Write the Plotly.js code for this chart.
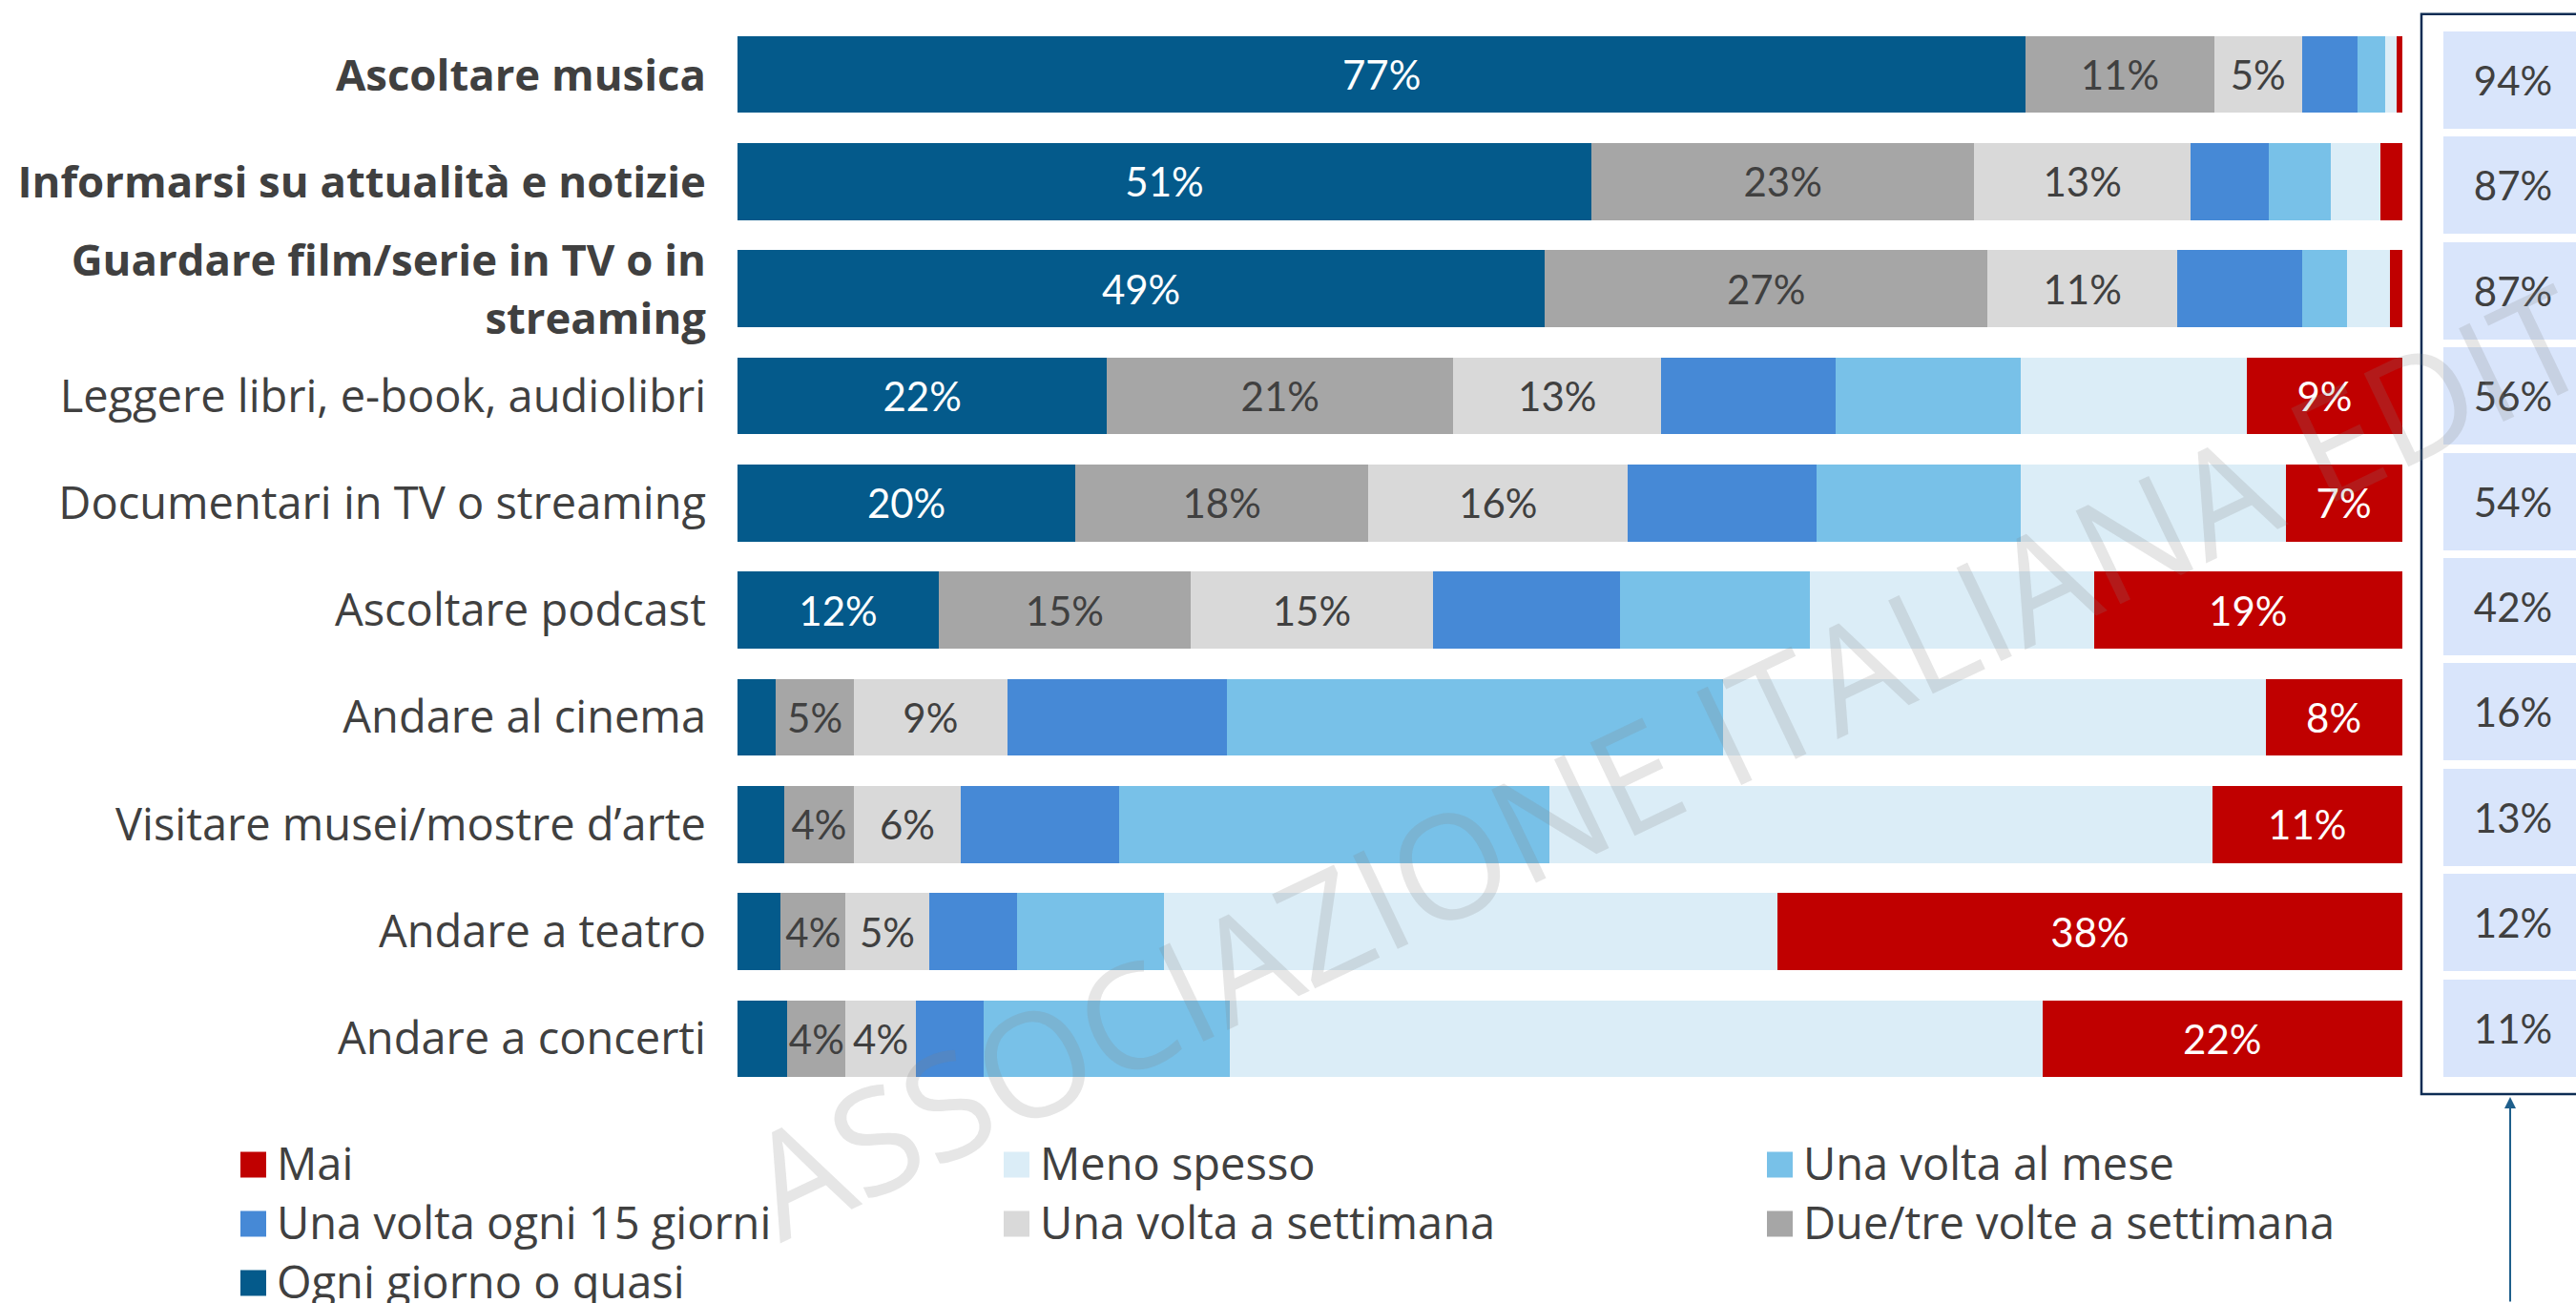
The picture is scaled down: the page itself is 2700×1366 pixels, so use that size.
<!DOCTYPE html>
<html>
<head>
<meta charset="utf-8">
<script src="https://cdn.plot.ly/plotly-3.0.1.min.js"></script>
<style>
html, body { margin: 0; padding: 0; background: #ffffff; }
#chart { width: 2700px; height: 1366px; }
</style>
</head>
<body>
<div id="chart"></div>
<script>
// ---- data ----
const categories = [
  'Ascoltare musica',
  'Informarsi su attualità e notizie',
  'Guardare film/serie in TV o in streaming',
  'Leggere libri, e-book, audiolibri',
  'Documentari in TV o streaming',
  'Ascoltare podcast',
  'Andare al cinema',
  'Visitare musei/mostre d’arte',
  'Andare a teatro',
  'Andare a concerti'
];
const tickLabels = [
  '<b style="font-size:45.5px">Ascoltare musica</b>',
  '<b style="font-size:45.5px">Informarsi su attualità e notizie</b>',
  '<b style="font-size:45.5px">Guardare film/serie in TV o in</b><br><b style="font-size:45.5px">streaming</b>',
  'Leggere libri, e-book, audiolibri',
  'Documentari in TV o streaming',
  'Ascoltare podcast',
  'Andare al cinema',
  'Visitare musei/mostre d’arte',
  'Andare a teatro',
  'Andare a concerti'
];
const seriesNames = [
  'Ogni giorno o quasi',
  'Due/tre volte a settimana',
  'Una volta a settimana',
  'Una volta ogni 15 giorni',
  'Una volta al mese',
  'Meno spesso',
  'Mai'
];
const ogniGiorno  = [77.4, 51.3, 48.5, 22.2, 20.3, 12.1,  2.3,  2.8,  2.6,  3.0];
const dueTre      = [11.3, 23.0, 26.6, 20.8, 17.6, 15.1,  4.7,  4.2,  3.9,  3.5];
const settimana   = [ 5.3, 13.0, 11.4, 12.5, 15.6, 14.6,  9.2,  6.4,  5.0,  4.2];
const quindici    = [ 3.3,  4.7,  7.5, 10.5, 11.3, 11.2, 13.2,  9.5,  5.3,  4.1];
const mese        = [ 1.7,  3.7,  2.7, 11.1, 12.3, 11.4, 29.8, 25.9,  8.8, 14.8];
const menoSpesso  = [ 0.7,  3.0,  2.6, 13.6, 15.9, 17.1, 32.6, 39.8, 36.9, 48.8];
const mai         = [ 0.3,  1.3,  0.7,  9.3,  7.0, 18.5,  8.2, 11.4, 37.5, 21.6];
const totali      = [94, 87, 87, 56, 54, 42, 16, 13, 12, 11];
const watermark   = 'ASSOCIAZIONE ITALIANA EDITORI';

// ---- styles ----
const seriesValues = [ogniGiorno, dueTre, settimana, quindici, mese, menoSpesso, mai];
const seriesColors = ['#045A8B', '#A6A6A6', '#D9D9D9', '#4689D6', '#78C1E8', '#DBEDF7', '#C00000'];
const labelColors  = ['#FFFFFF', '#404040', '#404040', '#404040', '#404040', '#404040', '#FFFFFF'];
const showLabels   = [true, true, true, false, false, false, true];
const LABEL_FONT = '"Open Sans", "Noto Sans", sans-serif';
const NUM_FONT = 'Lato, "Open Sans", sans-serif';

// pixel helpers for layout (plot area: left 773, width 1927, top 22, height 1123)
const PL = 773, PW = 1927, PB = 1145, PH = 1123;
const px2x = p => (p - PL) / PW;
const px2y = p => (PB - p) / PH;

const traces = seriesValues.map((vals, i) => ({
  type: 'bar',
  orientation: 'h',
  name: seriesNames[i],
  showlegend: false,
  y: categories,
  x: vals,
  xaxis: 'x',
  yaxis: 'y',
  marker: { color: seriesColors[i], line: { width: 0 } },
  text: vals.map(v => (showLabels[i] && Math.round(v) >= 4) ? Math.round(v) + '%' : ''),
  textposition: 'inside',
  insidetextanchor: 'middle',
  textangle: 0,
  constraintext: 'none',
  insidetextfont: { family: NUM_FONT, size: 42, color: labelColors[i] },
  hoverinfo: 'skip'
}));

// right column of totals
traces.push({
  type: 'bar',
  orientation: 'h',
  name: 'Totale',
  showlegend: false,
  y: categories,
  x: totali.map(() => 1.05),
  width: 0.924,
  xaxis: 'x2',
  yaxis: 'y2',
  marker: { color: '#D9E5FB', line: { width: 0 } },
  text: totali.map(v => v + '%'),
  textposition: 'inside',
  insidetextanchor: 'middle',
  textangle: 0,
  constraintext: 'none',
  insidetextfont: { family: NUM_FONT, size: 42, color: '#404040' },
  hoverinfo: 'skip'
});

// manual legend (3 columns, reversed series order)
const legendOrder = [6, 5, 4, 3, 2, 1, 0];
const legendColX = [252, 1052, 1852];
const legendRowY = [1221, 1283, 1345];
const SQ = 27;
const legendShapes = [];
const legendAnnots = [];
legendOrder.forEach((si, k) => {
  const cx = legendColX[k % 3];
  const cy = legendRowY[Math.floor(k / 3)];
  legendShapes.push({
    type: 'rect', xref: 'paper', yref: 'paper',
    x0: px2x(cx), x1: px2x(cx + SQ),
    y0: px2y(cy + SQ / 2), y1: px2y(cy - SQ / 2),
    line: { width: 0 }, fillcolor: seriesColors[si]
  });
  legendAnnots.push({
    xref: 'paper', yref: 'paper',
    x: px2x(cx + 36), y: px2y(cy - 2),
    xanchor: 'left', yanchor: 'middle',
    text: seriesNames[si], showarrow: false,
    font: { family: LABEL_FONT, size: 47, color: '#404040' }
  });
});

const layout = {
  width: 2700,
  height: 1366,
  paper_bgcolor: '#ffffff',
  plot_bgcolor: '#ffffff',
  margin: { l: PL, r: 0, t: 22, b: 1366 - PB, pad: 0 },
  barmode: 'stack',
  bargap: 0.283,
  font: { family: LABEL_FONT, size: 42, color: '#404040' },
  uniformtext: { mode: 'show', minsize: 42 },
  showlegend: false,
  xaxis: { domain: [0, px2x(2518)], range: [0, 100.02], visible: false, fixedrange: true },
  yaxis: {
    type: 'category',
    range: [9.5, -0.5],
    tickmode: 'array',
    tickvals: categories,
    ticktext: tickLabels,
    ticks: '',
    showline: false, showgrid: false, zeroline: false,
    ticklabelstandoff: 32,
    tickfont: { family: LABEL_FONT, size: 47, color: '#404040' }
  },
  xaxis2: { domain: [px2x(2561), 1], range: [0, 1], visible: false, anchor: 'y2' },
  yaxis2: { domain: [px2y(1132.7), px2y(28.8)], type: 'category', range: [9.5, -0.5], visible: false, anchor: 'x2' },
  shapes: [
    {
      type: 'rect', xref: 'paper', yref: 'paper',
      x0: px2x(2538), x1: px2x(2740), y0: px2y(1147), y1: px2y(14.7),
      line: { color: '#0D2C54', width: 2.5 },
      fillcolor: 'rgba(0,0,0,0)',
      layer: 'below'
    }
  ].concat(legendShapes),
  annotations: [
    {
      xref: 'paper', yref: 'paper', x: px2x(2631), y: px2y(1150),
      ax: 0, ay: 240, axref: 'pixel', ayref: 'pixel',
      text: '', showarrow: true,
      arrowhead: 2, arrowsize: 1.2, arrowwidth: 2, arrowcolor: '#1F5F8C'
    },
    {
      xref: 'paper', yref: 'paper', x: px2x(1860), y: px2y(741),
      xanchor: 'center', yanchor: 'middle',
      text: watermark,
      textangle: -25.5,
      showarrow: false,
      font: { family: LABEL_FONT, size: 152, color: 'rgba(128,128,128,0.2)' }
    }
  ].concat(legendAnnots)
};

Plotly.newPlot('chart', traces, layout, { staticPlot: true, displayModeBar: false });
</script>
</body>
</html>
